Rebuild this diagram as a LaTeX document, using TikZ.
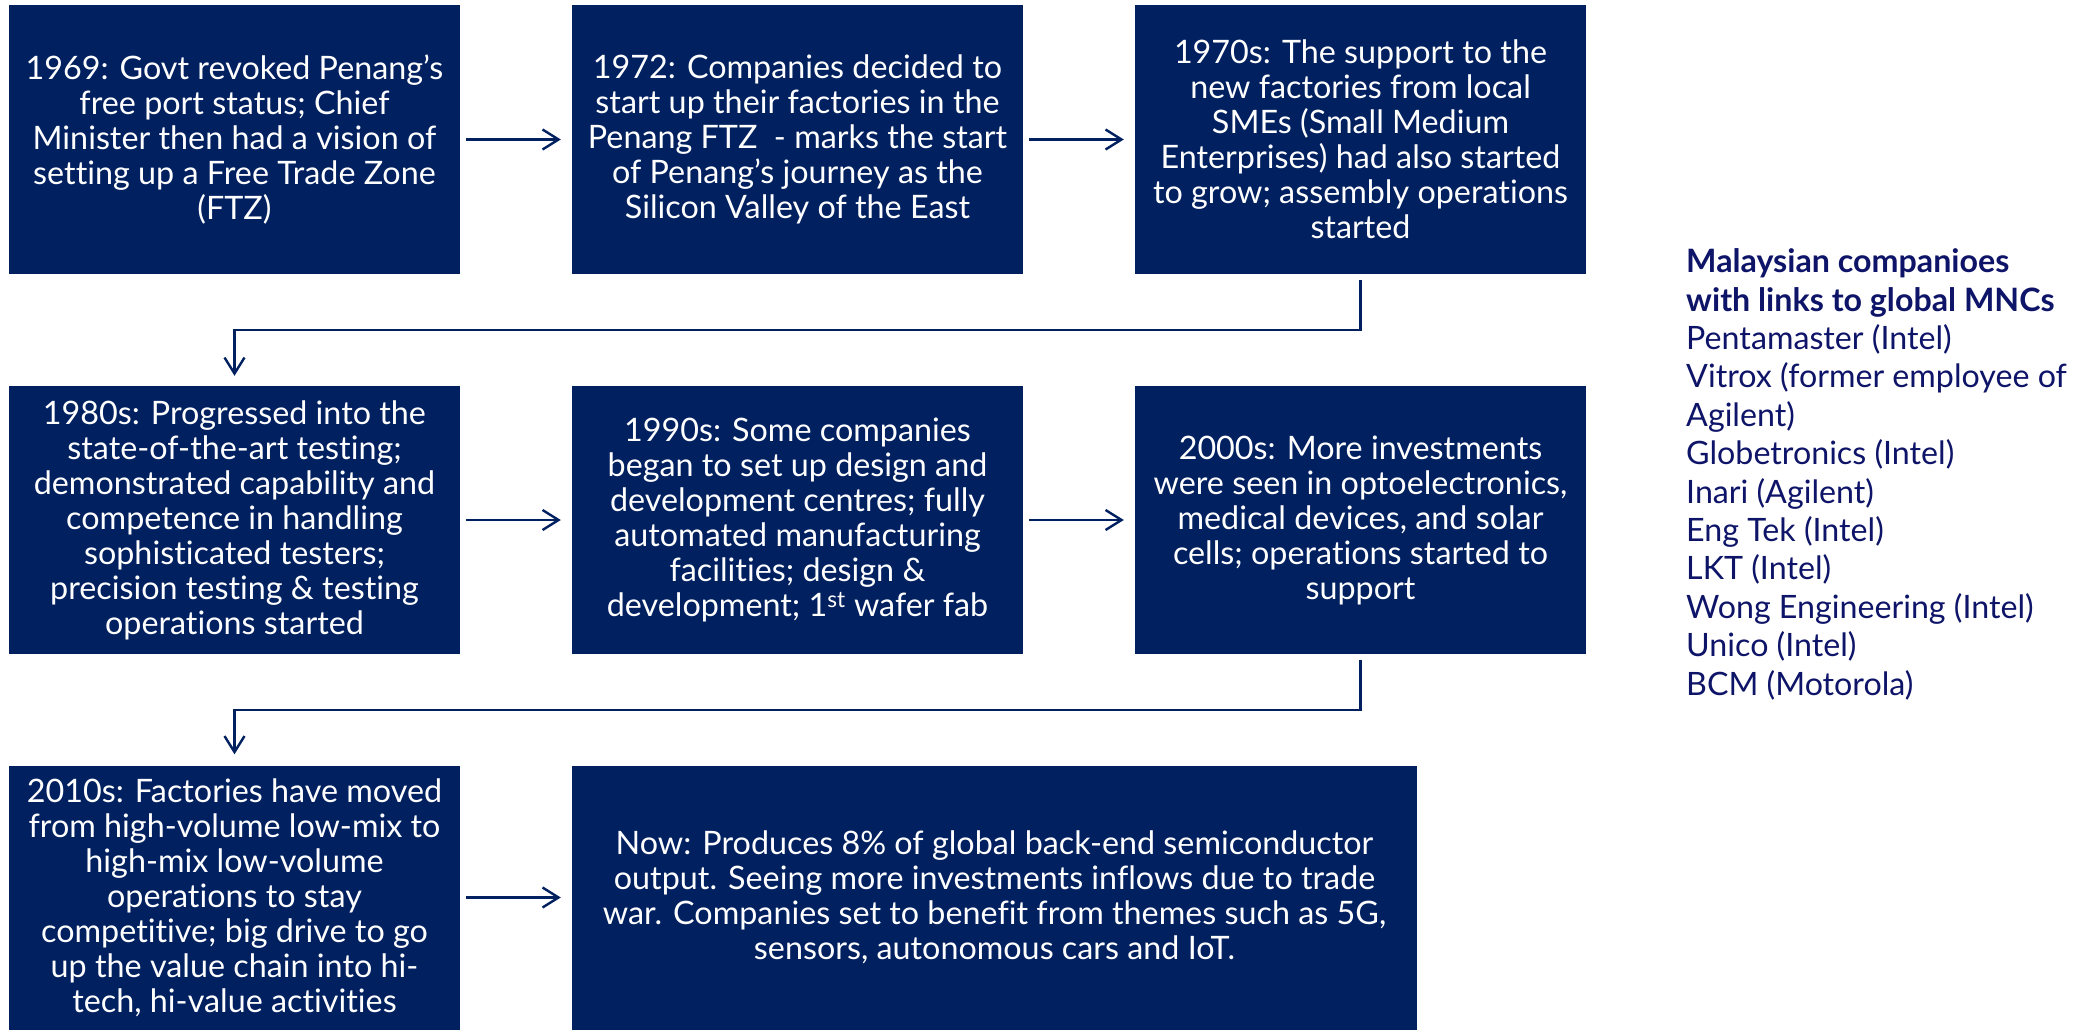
\documentclass[tikz,border=0pt]{standalone}
\usepackage{fontspec}
\setmainfont[Ligatures=NoCommon]{Lato}
\usetikzlibrary{arrows.meta}
\definecolor{navy}{RGB}{0,32,96}
\definecolor{txtnavy}{RGB}{14,20,104}
\begin{document}
\begin{tikzpicture}[x=1pt,y=-1pt]
\tikzset{
  box/.style={fill=navy, draw=none, text=white, align=center, inner sep=0pt,
    font=\fontsize{32.3}{35}\selectfont, minimum width=451pt, minimum height=268pt},
  conn/.style={draw=navy, line width=2.4pt, line join=miter,
    -{Straight Barb[length=16pt,width=20pt,line width=2.4pt]}},
  listtext/.style={text=txtnavy, align=left, inner sep=0pt,
    font=\fontsize{32.2}{38.4}\selectfont}
}
\fill[white] (0,0) rectangle (2092,1030);
\useasboundingbox (0,0) rectangle (2092,1030);

\node[box, minimum height=269pt] (b1) at (234.5,139.5) {1969: Govt revoked Penang’s\\free port status; Chief\\Minister then had a vision of\\setting up a Free Trade Zone\\(FTZ)};
\node[box, minimum height=269pt] (b2) at (797.5,139.5) {1972: Companies decided to\\start up their factories in the\\Penang FTZ \ - marks the start\\of Penang’s journey as the\\Silicon Valley of the East};
\node[box, minimum height=269pt] (b3) at (1360.5,139.5) {1970s: The support to the\\new factories from local\\SMEs (Small Medium\\Enterprises) had also started\\to grow; assembly operations\\started};

\node[box] (b4) at (234.5,520) {1980s: Progressed into the\\state-of-the-art testing;\\demonstrated capability and\\competence in handling\\sophisticated testers;\\precision testing \& testing\\operations started};
\node[box] (b5) at (797.5,520) {1990s: Some companies\\began to set up design and\\development centres; fully\\automated manufacturing\\facilities; design \&\\development; 1\textsuperscript{st} wafer fab};
\node[box] (b6) at (1360.5,520) {2000s: More investments\\were seen in optoelectronics,\\medical devices, and solar\\cells; operations started to\\support};

\node[box, minimum height=264pt] (b7) at (234.5,897.5) {2010s: Factories have moved\\from high-volume low-mix to\\high-mix low-volume\\operations to stay\\competitive; big drive to go\\up the value chain into hi-\\tech, hi-value activities};
\node[box, minimum height=264pt, minimum width=845pt] (b8) at (994.5,897.5) {Now: Produces 8\% of global back-end semiconductor\\output. Seeing more investments inflows due to trade\\war. Companies set to benefit from themes such as 5G,\\sensors, autonomous cars and IoT.};

\draw[conn, shorten <=6pt, shorten >=11pt] (b1) -- (b2);
\draw[conn, shorten <=6pt, shorten >=11pt] (b2) -- (b3);
\draw[conn, shorten <=6pt, shorten >=11pt] (b4) -- (b5);
\draw[conn, shorten <=6pt, shorten >=11pt] (b5) -- (b6);
\draw[conn, shorten <=6pt, shorten >=11pt] (b7.east) -- (b7.east -| b8.west);
\draw[conn, shorten <=6pt, shorten >=10pt] (b3.south) -- ++(0,56) -| (b4.north);
\draw[conn, shorten <=6pt, shorten >=11pt] (b6.south) -- ++(0,56) -| (b7.north);

\node[listtext, anchor=base west] (list) at (1686,695) {\textbf{Malaysian companioes}\\\textbf{with links to global MNCs}\\Pentamaster (Intel)\\Vitrox (former employee of\\Agilent)\\Globetronics (Intel)\\Inari (Agilent)\\Eng Tek (Intel)\\LKT (Intel)\\Wong Engineering (Intel)\\Unico (Intel)\\BCM (Motorola)};
\end{tikzpicture}
\end{document}
